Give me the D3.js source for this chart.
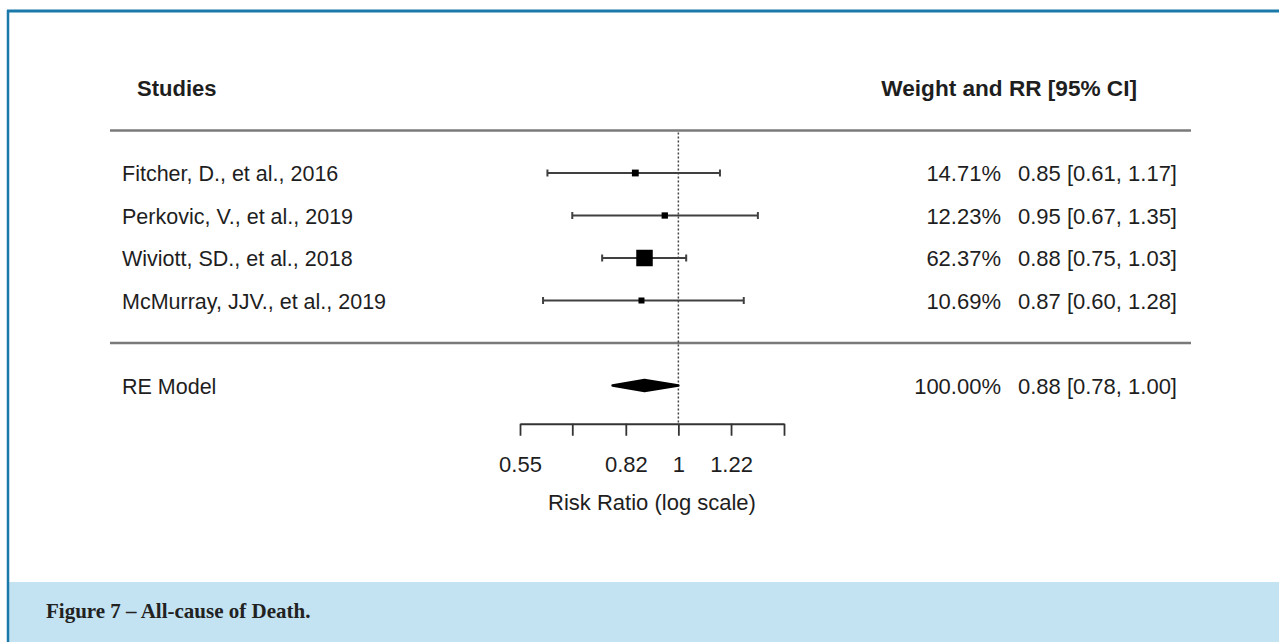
<!DOCTYPE html>
<html>
<head>
<meta charset="utf-8">
<script src="https://cdn.jsdelivr.net/npm/d3@7"></script>
<style>
  html, body { margin: 0; padding: 0; background: #fff; }
  svg { display: block; }
  text { font-family: "Liberation Sans", Arial, sans-serif; fill: #1e1e1e; }
</style>
</head>
<body>
<svg id="chart" width="1279" height="642"></svg>
<script>
// Study-level results (risk ratios with 95% CI) and random-effects weights
const studies = [
  "Fitcher, D., et al., 2016",
  "Perkovic, V., et al., 2019",
  "Wiviott, SD., et al., 2018",
  "McMurray, JJV., et al., 2019"
];
const rr     = [0.85, 0.95, 0.88, 0.87];
const ciLow  = [0.61, 0.67, 0.75, 0.60];
const ciHigh = [1.17, 1.35, 1.03, 1.28];
const weights = [14.71, 12.23, 62.37, 10.69];

// Pooled random-effects estimate
const summaryLabel = "RE Model";
const summaryEst = 0.88, summaryLow = 0.78, summaryHigh = 1.00, summaryWeight = 100.00;

// Axis ticks (log scale) and their printed labels
const tickValues = [0.55, 0.67, 0.82, 1, 1.22, 1.49];
const tickLabels = ["0.55", "", "0.82", "1", "1.22", ""];

const headerLeft = "Studies";
const headerRight = "Weight and RR [95% CI]";
const axisTitle = "Risk Ratio (log scale)";
const caption = "Figure 7 \u2013 All-cause of Death.";

const svg = d3.select("#chart");
const W = 1279, H = 642;

// Frame: caption band and blue page rules
svg.append("rect").attr("x", 9).attr("y", 582).attr("width", W - 9).attr("height", H - 582)
  .attr("fill", "#c3e3f3");
svg.append("line").attr("x1", 7).attr("x2", W).attr("y1", 11).attr("y2", 11)
  .attr("stroke", "#1b79aa").attr("stroke-width", 3);
svg.append("line").attr("x1", 8).attr("x2", 8).attr("y1", 10).attr("y2", H)
  .attr("stroke", "#1b79aa").attr("stroke-width", 2.5);
svg.append("text").attr("x", 46).attr("y", 618)
  .style("font-family", "'Liberation Serif', 'DejaVu Serif', serif")
  .style("font-weight", "bold").style("font-size", "21px").style("fill", "#222")
  .text(caption);

// Scales: log x for the effect size, linear row positions for y
const x = d3.scaleLog().domain([tickValues[0], tickValues[tickValues.length - 1]]).range([520, 784]);
const k = studies.length;
const yRow = d3.scaleLinear().domain([k + 2, -1]).range([88, 385.5]);
const sizeScale = d3.scaleLinear().domain(d3.extent(weights)).range([6, 16.5]);

const fs = 22;

// Headers
svg.append("text").attr("x", 137).attr("y", yRow(k + 2) + 8)
  .style("font-weight", "bold").style("font-size", fs + "px").text(headerLeft);
svg.append("text").attr("x", 1137).attr("y", yRow(k + 2) + 8).attr("text-anchor", "end")
  .style("font-weight", "bold").style("font-size", "22.6px").text(headerRight);

// Horizontal separators
const hLineX = [110, 1191];
[k + 1, 0].forEach(r => {
  svg.append("line").attr("x1", hLineX[0]).attr("x2", hLineX[1])
    .attr("y1", yRow(r)).attr("y2", yRow(r))
    .attr("stroke", "#7a7a7a").attr("stroke-width", 2.5);
});

// Axis with downward ticks
const axisY = yRow(-1.9);
const axis = d3.axisBottom(x).tickValues(tickValues)
  .tickFormat((d, i) => tickLabels[i]).tickSize(12).tickPadding(21).tickSizeOuter(0);
const gA = svg.append("g").attr("transform", `translate(0,${axisY})`).call(axis);
gA.select(".domain").attr("stroke", "#333").attr("stroke-width", 1.8);
gA.selectAll(".tick line").attr("stroke", "#333").attr("stroke-width", 1.8);
gA.selectAll(".tick text").style("font-size", fs + "px")
  .style("font-family", "'Liberation Sans', Arial, sans-serif").attr("fill", "#1e1e1e");
svg.append("text").attr("x", (x.range()[0] + x.range()[1]) / 2).attr("y", axisY + 86)
  .attr("text-anchor", "middle").style("font-size", fs + "px").text(axisTitle);

// Reference line at RR = 1
svg.append("line").attr("x1", x(1)).attr("x2", x(1))
  .attr("y1", yRow(k + 1) + 2).attr("y2", axisY)
  .attr("stroke", "#444").attr("stroke-width", 1.5).attr("stroke-dasharray", "2,2");

// Study rows
studies.forEach((s, i) => {
  const y = yRow(k - i);
  svg.append("text").attr("x", 122).attr("y", y + 8).style("font-size", "21.5px").text(s);
  svg.append("text").attr("x", 1001).attr("y", y + 8).attr("text-anchor", "end")
    .style("font-size", fs + "px").text(weights[i].toFixed(2) + "%");
  svg.append("text").attr("x", 1177).attr("y", y + 8).attr("text-anchor", "end")
    .style("font-size", fs + "px")
    .text(`${rr[i].toFixed(2)} [${ciLow[i].toFixed(2)}, ${ciHigh[i].toFixed(2)}]`);

  const g = svg.append("g").attr("stroke", "#404040").attr("stroke-width", 2);
  g.append("line").attr("x1", x(ciLow[i])).attr("x2", x(ciHigh[i])).attr("y1", y).attr("y2", y);
  [ciLow[i], ciHigh[i]].forEach(v => {
    g.append("line").attr("x1", x(v)).attr("x2", x(v)).attr("y1", y - 3.5).attr("y2", y + 3.5);
  });
  const sz = sizeScale(weights[i]);
  svg.append("rect").attr("x", x(rr[i]) - sz / 2).attr("y", y - sz / 2)
    .attr("width", sz).attr("height", sz).attr("fill", "#000");
});

// Summary row
const ys = yRow(-1);
svg.append("text").attr("x", 122).attr("y", ys + 8).style("font-size", "21.5px").text(summaryLabel);
svg.append("text").attr("x", 1001).attr("y", ys + 8).attr("text-anchor", "end")
  .style("font-size", fs + "px").text(summaryWeight.toFixed(2) + "%");
svg.append("text").attr("x", 1177).attr("y", ys + 8).attr("text-anchor", "end")
  .style("font-size", fs + "px")
  .text(`${summaryEst.toFixed(2)} [${summaryLow.toFixed(2)}, ${summaryHigh.toFixed(2)}]`);
const dh = 5.5;
svg.append("path")
  .attr("d", `M${x(summaryLow)},${ys} L${x(summaryEst)},${ys - dh} L${x(summaryHigh)},${ys} L${x(summaryEst)},${ys + dh} Z`)
  .attr("fill", "#000").attr("stroke", "#000").attr("stroke-width", 2.5).attr("stroke-linejoin", "round");
</script>
</body>
</html>
